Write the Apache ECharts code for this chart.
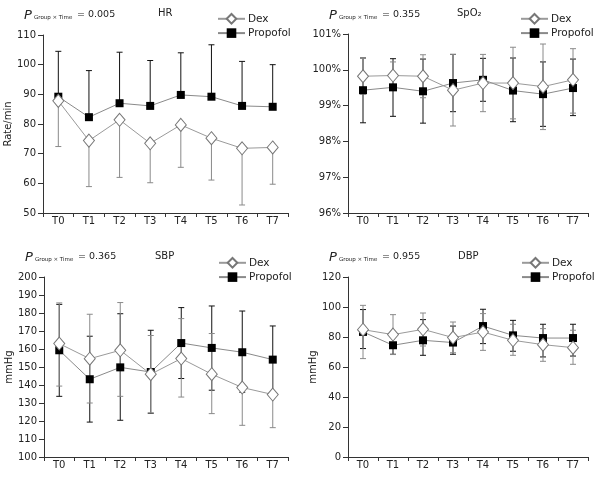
<!DOCTYPE html>
<html><head><meta charset="utf-8">
<script src="https://cdn.jsdelivr.net/npm/echarts@6/dist/echarts.min.js"></script>
<style>html,body{margin:0;padding:0;background:#fff}#c{width:607px;height:481px}</style>
</head><body><div id="c"></div>
<script>
const categories = ['T0','T1','T2','T3','T4','T5','T6','T7'];

// HR
const hrDex   = [87.8, 74.4, 81.4, 73.5, 79.7, 75.2, 71.8, 72.1];
const hrDexHi = [null, null, null, null, null, null, null, null];
const hrDexLo = [72.4, 58.9, 62.0, 60.2, 65.4, 61.1, 52.7, 59.7];
const hrPro   = [89.2, 82.3, 87.0, 86.1, 89.8, 89.2, 86.1, 85.8];
const hrProHi = [104.5, 98.0, 104.2, 101.4, 104.0, 106.7, 101.1, 100.0];
const hrProLo = [null, null, null, null, null, null, null, null];

// SpO2
const spDex   = [99.82, 99.84, 99.82, 99.43, 99.63, 99.63, 99.53, 99.72];
const spDexHi = [100.32, 100.22, 100.42, 100.43, 100.43, 100.63, 100.72, 100.59];
const spDexLo = [99.32, 99.46, 99.22, 98.43, 98.83, 98.63, 98.33, 98.79];
const spPro   = [99.43, 99.51, 99.40, 99.63, 99.72, 99.42, 99.32, 99.49];
const spProHi = [100.33, 100.31, 100.30, 100.43, 100.32, 100.33, 100.22, 100.30];
const spProLo = [98.52, 98.70, 98.51, 98.83, 99.12, 98.55, 98.42, 98.72];

// SBP
const sbpDex   = [163.0, 154.6, 159.3, 146.0, 154.7, 146.0, 138.6, 134.7];
const sbpDexHi = [185.6, 179.3, 185.8, 167.5, 176.9, 168.6, 159.5, 153.0];
const sbpDexLo = [139.4, 130.0, 133.7, 124.5, 133.3, 124.1, 117.6, 116.3];
const sbpPro   = [159.3, 143.2, 149.8, 147.2, 163.3, 160.6, 158.2, 154.1];
const sbpProHi = [184.8, 167.1, 179.6, 170.4, 183.0, 183.9, 181.1, 172.8];
const sbpProLo = [133.7, 119.4, 120.4, 124.3, 143.6, 137.1, 136.0, 135.5];

// DBP
const dbpDex   = [84.9, 81.6, 85.1, 79.6, 83.3, 77.8, 74.9, 72.9];
const dbpDexHi = [101.1, 94.9, 96.0, 90.0, 95.6, 88.5, 85.6, 84.5];
const dbpDexLo = [65.6, 68.3, 74.0, 69.5, 71.1, 67.8, 63.8, 61.8];
const dbpPro   = [83.4, 74.5, 77.8, 76.3, 87.3, 81.1, 79.3, 79.3];
const dbpProHi = [98.3, 80.5, 91.6, 87.3, 98.5, 91.1, 88.5, 88.5];
const dbpProLo = [72.3, 68.5, 67.8, 68.5, 75.6, 70.5, 66.7, 67.3];

const panelTitles = ['HR', 'SpO\u2082', 'SBP', 'DBP'];
const pValues = ['0.005', '0.355', '0.365', '0.955'];
const yNames = ['Rate/min', '', 'mmHg', 'mmHg'];
const yRanges = [[50, 110, 10], [96, 101, 1], [100, 200, 10], [0, 120, 20]];

const panels = [
  {dex: hrDex, dexHi: hrDexHi, dexLo: hrDexLo, pro: hrPro, proHi: hrProHi, proLo: hrProLo},
  {dex: spDex, dexHi: spDexHi, dexLo: spDexLo, pro: spPro, proHi: spProHi, proLo: spProLo},
  {dex: sbpDex, dexHi: sbpDexHi, dexLo: sbpDexLo, pro: sbpPro, proHi: sbpProHi, proLo: sbpProLo},
  {dex: dbpDex, dexHi: dbpDexHi, dexLo: dbpDexLo, pro: dbpPro, proHi: dbpProHi, proLo: dbpProLo}
];

const FONT = 'DejaVu Sans';
const TXT = '#222';
const AX = '#333';
const grids = [
  {left: 43, top: 35, width: 245, height: 178},
  {left: 348, top: 34, width: 240, height: 179},
  {left: 44, top: 277, width: 244, height: 180},
  {left: 348, top: 277, width: 240, height: 180}
];
const nameGaps = [24, 0, 24, 28];

function errSeries(k, mean, hi, lo, color) {
  return {
    type: 'custom', xAxisIndex: k, yAxisIndex: k, z: 1, silent: true,
    data: mean.map((v, i) => [i, v]),
    renderItem: function (params, api) {
      const i = params.dataIndex;
      const m = mean[i];
      const h = hi[i] == null ? m : hi[i];
      const l = lo[i] == null ? m : lo[i];
      const pH = api.coord([i, h]);
      const pL = api.coord([i, l]);
      const cw = 3;
      const st = {stroke: color, lineWidth: 1};
      const children = [{type: 'line', shape: {x1: pH[0], y1: pH[1], x2: pL[0], y2: pL[1]}, style: st}];
      if (hi[i] != null) children.push({type: 'line', shape: {x1: pH[0]-cw, y1: pH[1], x2: pH[0]+cw, y2: pH[1]}, style: st});
      if (lo[i] != null) children.push({type: 'line', shape: {x1: pL[0]-cw, y1: pL[1], x2: pL[0]+cw, y2: pL[1]}, style: st});
      return {type: 'group', children: children};
    }
  };
}

const xAxes = [], yAxes = [], series = [], legends = [], graphics = [];
const legendPos = [[217, 13], [520, 13], [218, 257], [521, 257]];
const annPos = [[24, 16, 158], [329, 16, 457], [25, 258, 155], [329, 258, 458]];
const titleY = [14, 14, 257, 257];

for (let k = 0; k < 4; k++) {
  const p = panels[k];
  xAxes.push({
    type: 'category', gridIndex: k, data: categories, boundaryGap: true,
    axisLine: {lineStyle: {color: AX, width: 1}},
    axisTick: {show: true, length: 4, lineStyle: {color: AX}},
    axisLabel: {color: TXT, fontFamily: FONT, fontSize: 10, margin: 3},
    splitLine: {show: false}
  });
  const r = yRanges[k];
  yAxes.push({
    type: 'value', gridIndex: k, min: r[0], max: r[1], interval: r[2],
    name: yNames[k], nameLocation: 'middle', nameGap: nameGaps[k],
    nameTextStyle: {color: TXT, fontFamily: FONT, fontSize: 10},
    axisLine: {show: true, lineStyle: {color: AX, width: 1}},
    axisTick: {show: true, length: 5, lineStyle: {color: AX}},
    axisLabel: {color: TXT, fontFamily: FONT, fontSize: 10, margin: 7,
      formatter: k === 1 ? '{value}%' : '{value}'},
    splitLine: {show: false}
  });
  series.push(errSeries(k, p.pro, p.proHi, p.proLo, '#111'));
  series.push(errSeries(k, p.dex, p.dexHi, p.dexLo, '#8a8a8a'));
  series.push({
    name: 'Propofol', type: 'line', xAxisIndex: k, yAxisIndex: k, data: p.pro, z: 3,
    symbol: 'rect', symbolSize: 8,
    itemStyle: {color: '#000', borderColor: '#000', borderWidth: 0},
    lineStyle: {color: '#8a8a8a', width: 1}, animation: false
  });
  series.push({
    name: 'Dex', type: 'line', xAxisIndex: k, yAxisIndex: k, data: p.dex, z: 4,
    symbol: 'diamond', symbolSize: [11, 13],
    itemStyle: {color: '#fff', borderColor: '#777', borderWidth: 1},
    lineStyle: {color: '#9a9a9a', width: 1}, animation: false
  });
  legends.push({
    data: ['Dex', 'Propofol'], orient: 'vertical', left: legendPos[k][0], top: legendPos[k][1],
    padding: 0, itemWidth: 27, itemHeight: 12, itemGap: 3,
    selectedMode: false,
    textStyle: {color: TXT, fontFamily: FONT, fontSize: 10.5, padding: [0, 0, 0, -2]}
  });
  const a = annPos[k];
  graphics.push({type: 'text', left: a[0], top: a[1] - 7,
    style: {text: 'P', font: 'italic 13px "' + FONT + '"', fill: TXT}});
  graphics.push({type: 'text', left: a[0] + 10, top: a[1] - 1,
    style: {text: 'Group \u00d7 Time', font: '5.5px "' + FONT + '"', fill: TXT}});
  graphics.push({type: 'text', left: a[0] + 53, top: a[1] - 6,
    style: {text: '= ' + pValues[k], font: '9.5px "' + FONT + '"', fill: TXT}});
  graphics.push({type: 'text', left: a[2], top: titleY[k] - 6,
    style: {text: panelTitles[k], font: '10px "' + FONT + '"', fill: TXT}});
}

const chart = echarts.init(document.getElementById('c'), null, {renderer: 'canvas'});
chart.setOption({
  animation: false,
  backgroundColor: '#fff',
  grid: grids,
  xAxis: xAxes,
  yAxis: yAxes,
  legend: legends,
  series: series,
  graphic: graphics
});
</script></body></html>
